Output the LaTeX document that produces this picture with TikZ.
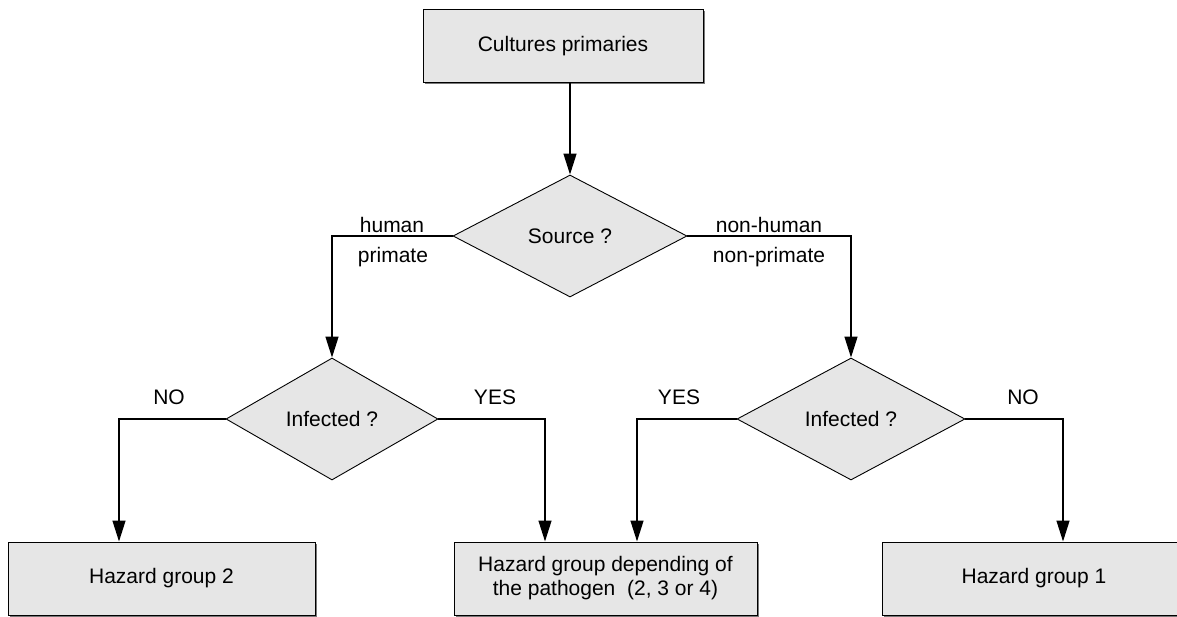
\documentclass[tikz,border=0pt]{standalone}
\usepackage{fontspec}
\setmainfont{Liberation Sans}
\usetikzlibrary{shapes.geometric,arrows.meta,shadows}
\definecolor{boxgray}{RGB}{230,230,230}
\definecolor{shadowgray}{RGB}{120,120,120}
\begin{document}
\begin{tikzpicture}[x=1pt,y=-1pt,
  font=\fontsize{21}{24}\selectfont,
  box/.style={draw=black, line width=1pt, fill=boxgray, inner sep=0pt, align=center,
    drop shadow={shadow xshift=1.5pt, shadow yshift=-1.5pt, fill=shadowgray, opacity=1}},
  decision/.style={diamond, draw=black, line width=0.9pt, fill=boxgray, inner sep=0pt},
  link/.style={line width=1.3pt},
  flow/.style={link, -{Triangle[length=21pt,width=13pt]}},
  lbl/.style={inner sep=0pt, anchor=base}
]
\useasboundingbox (0,0) rectangle (1177,617);

% process boxes
\node[box, minimum width=280pt, minimum height=73pt] (top) at (563,46.5) {Cultures primaries};
\node[box, minimum width=307pt, minimum height=73pt] (hg2) at (161.5,578.5) {Hazard group 2};
\node[box, minimum width=303pt, minimum height=73pt] (hgx) at (605.5,578.5)
  {Hazard group depending of\\the pathogen\ \ (2, 3 or 4)};
\node[box, minimum width=304pt, minimum height=73pt] (hg1) at (1034,578.5) {Hazard group 1};

% decisions
\node[decision, minimum width=234pt, minimum height=122pt] (src) at (570,236) {Source ?};
\node[decision, minimum width=212pt, minimum height=122pt] (infL) at (332,419) {Infected ?};
\node[decision, minimum width=228pt, minimum height=122pt] (infR) at (851,419) {Infected ?};

% elbow corners
\coordinate (nL) at (119,419);
\coordinate (yL) at (545,419);
\coordinate (yR) at (637,419);
\coordinate (nR) at (1063,419);

% connectors
\draw[flow] (src |- top.south) -- (src.north);
\draw[flow] (src.west) -- (src.west -| infL.north) -- (infL.north);
\draw[flow] (src.east) -- (src.east -| infR.north) -- (infR.north);
\draw[flow] (infL.west) -- (nL) -- (nL |- hg2.north);
\draw[flow] (infL.east) -- (yL) -- (yL |- hgx.north);
\draw[flow] (infR.west) -- (yR) -- (yR |- hgx.north);
\draw[flow] (infR.east) -- (nR) -- (nR |- hg1.north);

% branch labels
\node[lbl] (hum) at (392,233) {human};
\node[lbl] (pri) at (393,263) {primate};
\node[lbl] (nhum) at (769,233) {non-human};
\node[lbl] (npri) at (769,263) {non-primate};
\node[lbl] (noL) at (169,404) {NO};
\node[lbl] (yesL) at (495,404) {YES};
\node[lbl] (yesR) at (679,404) {YES};
\node[lbl] (noR) at (1023,404) {NO};
\end{tikzpicture}
\end{document}
